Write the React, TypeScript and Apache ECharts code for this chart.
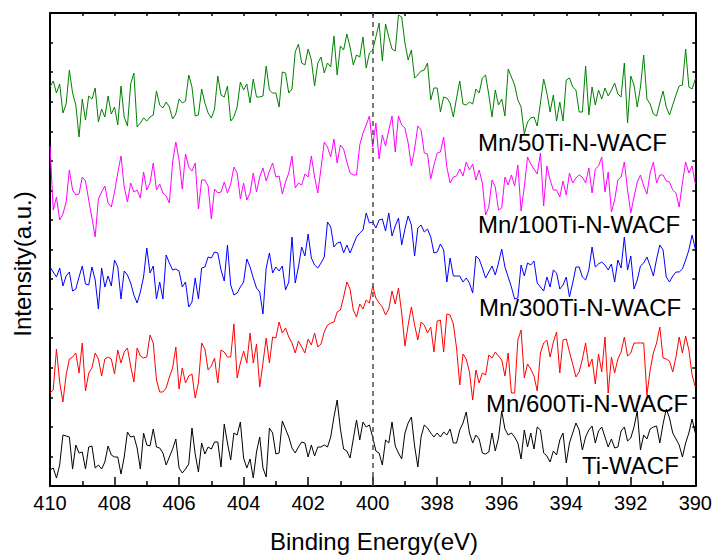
import React, { useEffect, useRef } from "react";
import * as echarts from "echarts";

// Binding energy grid (eV), 0.1 eV steps from 410 down to 390
const energies: number[] = Array.from({ length: 201 }, (_, i) => +(410 - i * 0.1).toFixed(1));

const xTickLabels = ["390", "392", "394", "396", "398", "400", "402", "404", "406", "408", "410"];

const seriesNames = ["Mn/50Ti-N-WACF", "Mn/100Ti-N-WACF", "Mn/300Ti-N-WACF", "Mn/600Ti-N-WACF", "Ti-WACF"];

const mn50: number[] = [
  399, 405, 393, 402, 373, 382, 416, 393, 381, 349,
  387, 366, 390, 387, 398, 364, 377, 369, 390, 372,
  379, 361, 400, 369, 360, 402, 413, 359, 363, 368,
  365, 369, 371, 395, 381, 378, 384, 379, 367, 372,
  387, 383, 385, 411, 399, 370, 371, 397, 383, 373,
  368, 377, 410, 391, 389, 400, 365, 369, 379, 404,
  396, 402, 383, 407, 389, 389, 390, 420, 396, 393,
  393, 379, 414, 413, 393, 397, 434, 442, 423, 421,
  437, 426, 400, 423, 429, 413, 423, 419, 450, 411,
  440, 436, 452, 439, 421, 431, 429, 449, 418, 433,
  436, 449, 463, 425, 462, 449, 437, 435, 471, 469,
  443, 426, 436, 408, 411, 415, 416, 423, 386, 398,
  398, 374, 389, 388, 383, 369, 388, 405, 382, 381,
  384, 382, 397, 393, 408, 411, 391, 369, 396, 381,
  387, 370, 417, 409, 401, 386, 379, 352, 364, 368,
  369, 360, 383, 407, 393, 374, 391, 365, 384, 365,
  406, 408, 399, 396, 374, 374, 420, 371, 399, 381,
  396, 387, 398, 390, 396, 403, 392, 389, 423, 363,
  410, 401, 379, 399, 431, 387, 382, 372, 370, 383,
  395, 379, 371, 381, 391, 400, 401, 437, 399, 397,
  407,
];

const mn100: number[] = [
  340, 276, 289, 266, 272, 284, 316, 296, 291, 292,
  309, 305, 286, 268, 249, 287, 294, 300, 283, 279,
  294, 313, 330, 299, 284, 303, 294, 296, 288, 314,
  296, 303, 323, 296, 302, 293, 290, 283, 324, 344,
  326, 297, 332, 319, 315, 323, 277, 306, 306, 300,
  267, 297, 293, 294, 304, 293, 302, 319, 313, 287,
  303, 286, 293, 313, 294, 309, 318, 305, 315, 323,
  309, 310, 292, 304, 313, 330, 298, 303, 301, 312,
  309, 330, 309, 293, 318, 344, 339, 329, 347, 323,
  341, 337, 324, 313, 311, 311, 341, 353, 361, 370,
  339, 363, 327, 351, 340, 356, 370, 334, 370, 361,
  358, 343, 320, 337, 360, 356, 333, 332, 307, 321,
  333, 334, 349, 319, 303, 309, 310, 317, 310, 324,
  316, 322, 306, 316, 303, 271, 279, 306, 299, 276,
  278, 309, 301, 311, 300, 321, 275, 299, 329, 322,
  317, 312, 333, 280, 320, 306, 296, 296, 289, 305,
  291, 313, 303, 308, 311, 309, 303, 318, 293, 317,
  320, 329, 294, 314, 274, 286, 306, 309, 324, 296,
  273, 289, 304, 311, 300, 292, 313, 324, 303, 311,
  311, 305, 304, 296, 293, 279, 303, 324, 313, 320,
  302,
];

const mn300: number[] = [
  219, 214, 209, 218, 200, 210, 214, 195, 197, 209,
  220, 202, 201, 219, 206, 177, 218, 199, 210, 200,
  226, 219, 187, 215, 211, 203, 191, 183, 194, 209,
  238, 213, 220, 187, 204, 187, 231, 223, 216, 217,
  215, 199, 204, 179, 184, 208, 187, 218, 219, 229,
  228, 234, 233, 216, 205, 241, 201, 191, 193, 199,
  204, 227, 219, 208, 198, 194, 172, 218, 233, 213,
  219, 215, 220, 196, 204, 249, 203, 219, 239, 230,
  252, 228, 221, 218, 223, 229, 264, 259, 239, 243,
  244, 233, 241, 233, 241, 249, 253, 256, 273, 263,
  264, 258, 266, 267, 255, 273, 250, 260, 268, 241,
  257, 270, 261, 230, 258, 261, 254, 257, 249, 233,
  234, 242, 236, 204, 228, 210, 210, 210, 204, 208,
  203, 193, 230, 227, 218, 208, 214, 220, 211, 223,
  237, 219, 209, 199, 187, 188, 221, 210, 223, 221,
  225, 203, 199, 195, 209, 199, 216, 213, 197, 201,
  209, 189, 203, 219, 219, 209, 206, 216, 239, 219,
  222, 224, 221, 216, 222, 204, 226, 218, 249, 216,
  230, 197, 206, 220, 223, 229, 220, 210, 227, 241,
  236, 209, 204, 210, 214, 214, 217, 226, 236, 251,
  237,
];

const mn600: number[] = [
  93, 96, 137, 104, 84, 111, 127, 129, 133, 113,
  143, 95, 113, 118, 133, 127, 110, 127, 129, 127,
  112, 136, 123, 134, 138, 120, 104, 138, 130, 128,
  129, 151, 143, 106, 94, 94, 98, 109, 118, 139,
  97, 118, 103, 110, 112, 88, 103, 143, 137, 116,
  120, 128, 103, 136, 134, 129, 129, 162, 108, 123,
  135, 123, 153, 123, 142, 99, 123, 148, 123, 149,
  148, 164, 153, 158, 149, 143, 133, 145, 139, 133,
  147, 141, 153, 139, 142, 154, 161, 163, 164, 174,
  176, 189, 204, 197, 176, 169, 182, 177, 186, 183,
  200, 188, 183, 179, 171, 177, 195, 182, 198, 173,
  140, 161, 179, 161, 146, 164, 161, 153, 159, 134,
  165, 166, 134, 172, 171, 162, 138, 101, 132, 127,
  114, 86, 116, 103, 113, 111, 131, 128, 134, 130,
  126, 110, 133, 93, 93, 146, 156, 108, 122, 117,
  110, 95, 133, 143, 146, 129, 144, 154, 113, 146,
  147, 134, 122, 109, 114, 127, 143, 119, 127, 102,
  132, 114, 149, 93, 129, 113, 127, 134, 149, 130,
  133, 143, 143, 143, 143, 91, 116, 133, 143, 159,
  128, 127, 125, 114, 129, 149, 133, 150, 136, 111,
  99,
];

const tiWacf: number[] = [
  16, 18, 8, 21, 51, 50, 49, 17, 41, 33,
  34, 17, 39, 40, 18, 21, 17, 24, 40, 31,
  29, 29, 12, 29, 54, 49, 50, 38, 17, 53,
  41, 40, 57, 39, 38, 33, 21, 29, 37, 47,
  18, 13, 17, 22, 58, 32, 14, 43, 32, 39,
  37, 44, 44, 19, 62, 43, 26, 53, 51, 64,
  28, 18, 27, 8, 34, 49, 18, 9, 58, 53,
  32, 33, 65, 57, 49, 38, 33, 39, 44, 43,
  29, 41, 30, 39, 39, 41, 39, 49, 69, 86,
  57, 37, 35, 28, 47, 66, 46, 64, 59, 61,
  49, 35, 33, 21, 46, 43, 64, 40, 33, 27,
  53, 63, 69, 40, 19, 49, 61, 58, 53, 49,
  53, 49, 54, 51, 57, 43, 43, 56, 63, 74,
  53, 43, 51, 47, 33, 32, 34, 53, 35, 48,
  75, 57, 51, 53, 49, 43, 27, 56, 39, 53,
  37, 59, 56, 33, 30, 24, 35, 31, 46, 53,
  23, 43, 53, 63, 56, 36, 49, 56, 60, 43,
  55, 59, 49, 39, 47, 38, 39, 55, 59, 45,
  48, 59, 75, 36, 51, 47, 57, 59, 60, 43,
  62, 77, 68, 53, 47, 41, 29, 43, 53, 67,
  53,
];

const seriesValues = [mn50, mn100, mn300, mn600, tiWacf];
const seriesColors = ["#008000", "#ff00ff", "#0000ff", "#ff0000", "#000000"];
const refEnergy = 400;

const FONT = "'Liberation Sans', Arial, sans-serif";

export default function App() {
  const ref = useRef<HTMLDivElement>(null);

  useEffect(() => {
    if (!ref.current) return;
    const chart = echarts.init(ref.current, null, { renderer: "svg" });

    const axisLine = { show: true, onZero: false, lineStyle: { color: "#000", width: 2 } };

    const series: any[] = seriesValues.map((vals, s) => ({
      name: seriesNames[s],
      type: "line",
      xAxisIndex: 0,
      yAxisIndex: 0,
      symbol: "none",
      showSymbol: false,
      data: energies.map((e, i) => [e, vals[i]]),
      lineStyle: { color: seriesColors[s], width: 1 },
      itemStyle: { color: seriesColors[s] },
      z: 2,
    }));

    series.push({
      name: "ref",
      type: "line",
      data: [],
      xAxisIndex: 0,
      yAxisIndex: 0,
      markLine: {
        silent: true,
        symbol: ["none", "none"],
        label: { show: false },
        lineStyle: { type: [5, 4], color: "#4d4d4d", width: 1.5 },
        data: [{ xAxis: refEnergy }],
      },
    });

    const labelPos = [
      { x: 478, y: 142 },
      { x: 478, y: 224 },
      { x: 479, y: 307 },
      { x: 486, y: 403 },
      { x: 582, y: 465 },
    ];

    const graphic: any[] = seriesNames.map((name, s) => ({
      type: "text",
      x: labelPos[s].x,
      y: labelPos[s].y,
      z: 10,
      style: {
        text: name,
        fill: "#000",
        font: `24px ${FONT}`,
        textAlign: "left",
        textVerticalAlign: "middle",
        align: "left",
        verticalAlign: "middle",
      },
    }));
    graphic.push({
      type: "text",
      x: 374,
      y: 541,
      style: {
        text: "Binding Energy(eV)",
        fill: "#000",
        font: `24px ${FONT}`,
        textAlign: "center",
        textVerticalAlign: "middle",
        align: "center",
        verticalAlign: "middle",
      },
    });
    graphic.push({
      type: "text",
      x: 22,
      y: 264,
      rotation: Math.PI / 2,
      style: {
        text: "Intensity(a.u.)",
        fill: "#000",
        font: `24px ${FONT}`,
        textAlign: "center",
        textVerticalAlign: "middle",
        align: "center",
        verticalAlign: "middle",
      },
    });

    chart.setOption({
      animation: false,
      backgroundColor: "#fff",
      grid: { left: 50, right: 18, top: 13, bottom: 69, containLabel: false },
      xAxis: [
        {
          type: "value",
          min: 390,
          max: 410,
          interval: 2,
          inverse: true,
          position: "bottom",
          axisLine,
          axisTick: { show: true, inside: true, length: 9, lineStyle: { color: "#000", width: 1.5 } },
          minorTick: { show: true, splitNumber: 2, length: 5, lineStyle: { color: "#000", width: 1.5 } },
          axisLabel: {
            show: true,
            color: "#000",
            fontSize: 20,
            fontFamily: FONT,
            margin: 7,
            showMinLabel: true,
            showMaxLabel: true,
            formatter: (v: number) => {
              const s = String(Math.round(v));
              return xTickLabels.includes(s) ? s : "";
            },
          },
          splitLine: { show: false },
        },
        {
          type: "value",
          min: 390,
          max: 410,
          interval: 1,
          inverse: true,
          position: "top",
          axisLine,
          axisTick: { show: true, inside: true, length: 3, lineStyle: { color: "#000", width: 1.5 } },
          axisLabel: { show: false },
          splitLine: { show: false },
        },
      ],
      yAxis: [
        {
          type: "value",
          min: 0,
          max: 473,
          interval: 473 / 16,
          position: "left",
          axisLine,
          axisTick: { show: true, inside: true, length: 3, lineStyle: { color: "#000", width: 1.5 } },
          axisLabel: { show: false },
          splitLine: { show: false },
        },
        {
          type: "value",
          min: 0,
          max: 473,
          interval: 473 / 16,
          position: "right",
          axisLine,
          axisTick: { show: true, inside: true, length: 3, lineStyle: { color: "#000", width: 1.5 } },
          axisLabel: { show: false },
          splitLine: { show: false },
        },
      ],
      series,
      graphic,
    });

    return () => chart.dispose();
  }, []);

  return (
    <div
      ref={ref}
      style={{ position: "absolute", left: 0, top: 0, width: 715, height: 555, background: "#fff" }}
    />
  );
}
